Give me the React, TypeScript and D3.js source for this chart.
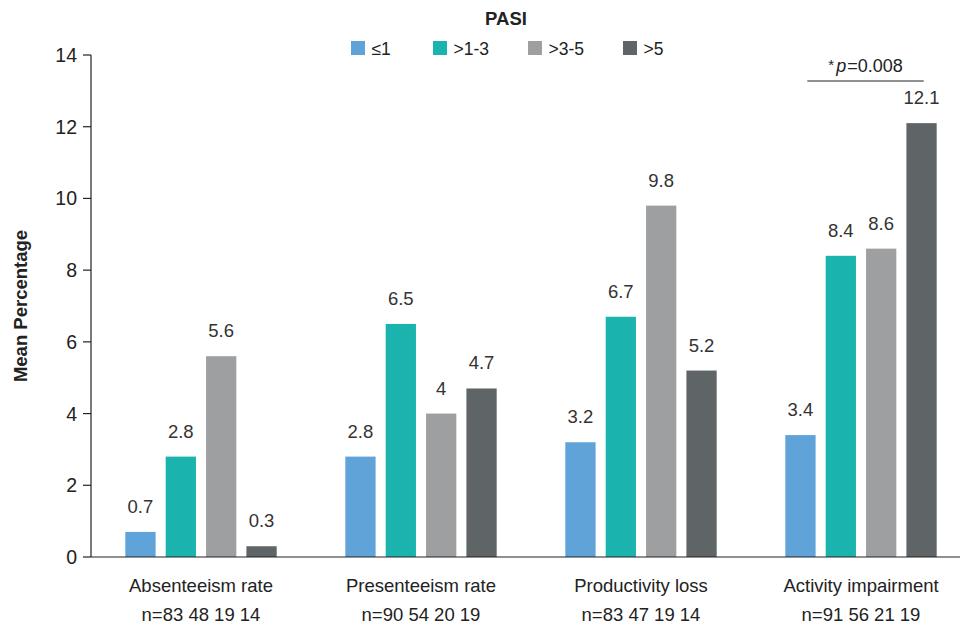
import React from "react";
import * as d3 from "d3";

// Work-productivity outcomes by PASI group
const categories = ["Absenteeism rate", "Presenteeism rate", "Productivity loss", "Activity impairment"];
const sampleSizes = ["n=83 48 19 14", "n=90 54 20 19", "n=83 47 19 14", "n=91 56 21 19"];
const groups = ["≤1", ">1-3", ">3-5", ">5"];
const lowPasi = [0.7, 2.8, 3.2, 3.4];
const mildPasi = [2.8, 6.5, 6.7, 8.4];
const moderatePasi = [5.6, 4, 9.8, 8.6];
const highPasi = [0.3, 4.7, 5.2, 12.1];
const yTicks = [0, 2, 4, 6, 8, 10, 12, 14];
const colors = ["#5fa3d9", "#1bb3ad", "#9d9fa1", "#5f6566"];

const seriesValues = [lowPasi, mildPasi, moderatePasi, highPasi];

export default function App() {
  const width = 960;
  const height = 626;
  const axisX = 91;
  const font = "Liberation Sans, Arial, sans-serif";

  const y = d3.scaleLinear().domain([0, 14]).range([557, 55]);
  const x0 = d3.scaleBand().domain(categories).range([91, 971]).paddingInner(0.312).paddingOuter(0.156);
  const x1 = d3.scaleBand().domain(groups).range([0, x0.bandwidth()]).paddingInner(0.25).paddingOuter(0);

  // legend entries flow left to right: swatch, label, then a fixed gap
  const legendX: number[] = [];
  groups.reduce((acc, g) => {
    legendX.push(acc);
    return acc + 69 + 6.5 * g.length;
  }, 351);

  const last = categories[categories.length - 1];
  const sigX1 = (x0(last) ?? 0) + (x1(groups[0]) ?? 0) + 22;
  const sigX2 = (x0(last) ?? 0) + (x1(groups[3]) ?? 0) + x1.bandwidth() - 13;

  return (
    <svg width={width} height={height} style={{ position: "absolute", left: 0, top: 0, background: "#fff" }} fontFamily={font}>
      {/* Legend */}
      <text x={506} y={25} textAnchor="middle" fontWeight="bold" fontSize={18.5} fill="#222">PASI</text>
      {groups.map((g, i) => (
        <g key={g} transform={`translate(${legendX[i]},41)`}>
          <rect width={14} height={14} fill={colors[i]} />
          <text x={20.5} y={13.5} fontSize={17.5} fill="#222">{g}</text>
        </g>
      ))}

      {/* Y axis */}
      <line x1={axisX} x2={axisX} y1={y(14)} y2={y(0)} stroke="#222" strokeWidth={1.2} />
      {yTicks.map((t) => (
        <g key={t}>
          <line x1={axisX - 8} x2={axisX} y1={y(t)} y2={y(t)} stroke="#222" strokeWidth={1.2} />
          <text x={axisX - 14} y={y(t) + 7} textAnchor="end" fontSize={19.5} fill="#222">{t}</text>
        </g>
      ))}
      <text transform={`translate(27,${(y(0) + y(14)) / 2}) rotate(-90)`} textAnchor="middle" fontWeight="bold" fontSize={18.5} fill="#222">
        Mean Percentage
      </text>

      {/* Bars */}
      {categories.map((c, ci) => (
        <g key={c} transform={`translate(${x0(c)},0)`}>
          {groups.map((g, gi) => {
            const v = seriesValues[gi][ci];
            const bx = x1(g) ?? 0;
            return (
              <g key={g}>
                <rect x={bx} y={y(v)} width={x1.bandwidth()} height={y(0) - y(v)} fill={colors[gi]} />
                <text x={bx + x1.bandwidth() / 2} y={y(v) - 19} textAnchor="middle" fontSize={18.5} fill="#333">{v}</text>
              </g>
            );
          })}
          <text x={x0.bandwidth() / 2} y={592} textAnchor="middle" fontSize={18.5} fill="#222">{c}</text>
          <text x={x0.bandwidth() / 2} y={621} textAnchor="middle" fontSize={18.5} fill="#222">{sampleSizes[ci]}</text>
        </g>
      ))}

      {/* X axis */}
      <line x1={axisX} x2={width} y1={y(0)} y2={y(0)} stroke="#222" strokeWidth={1.2} />

      {/* Significance marker */}
      <line x1={sigX1} x2={sigX2} y1={81} y2={81} stroke="#222" strokeWidth={1.2} />
      <text x={(sigX1 + sigX2) / 2} y={72} textAnchor="middle" fontSize={18} fill="#222">
        <tspan fontSize={15} dy={-2}>*</tspan>
        <tspan fontStyle="italic" dx={2} dy={2}>p</tspan>
        <tspan dx={1}>=0.008</tspan>
      </text>
    </svg>
  );
}
